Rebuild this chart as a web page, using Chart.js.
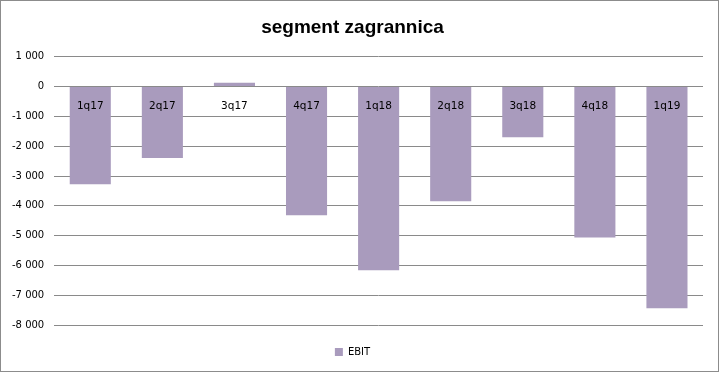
<!DOCTYPE html>
<html>
<head>
<meta charset="utf-8">
<script src="https://cdn.jsdelivr.net/npm/chart.js@4"></script>
<style>
  html, body { margin: 0; padding: 0; background: #fff; }
  #wrap { position: relative; width: 717px; height: 370px; border: 1px solid #8c8c8c; }
</style>
</head>
<body>
<div id="wrap"><canvas id="chart"></canvas></div>
<script>
// Dane
const kwartaly = ["1q17", "2q17", "3q17", "4q17", "1q18", "2q18", "3q18", "4q18", "1q19"];
const ebit = [-3280, -2400, 130, -4320, -6160, -3850, -1700, -5060, -7440];
const tytul = "segment zagrannica";
const seria = "EBIT";

// format "1 000"
function formatTys(v) {
  const s = Math.abs(v).toString().replace(/\B(?=(\d{3})+(?!\d))/g, " ");
  return (v < 0 ? "-" : "") + s;
}

const ctx = document.getElementById("chart").getContext("2d");
new Chart(ctx, {
  type: "bar",
  data: {
    labels: kwartaly,
    datasets: [
      {
        label: seria,
        data: ebit,
        backgroundColor: "#a99bbd",
        borderWidth: 0,
        barPercentage: 0.57,
        categoryPercentage: 1,
      },
    ],
  },
  options: {
    responsive: true,
    maintainAspectRatio: false,
    animation: false,
    layout: { padding: { left: 1, right: 15, top: 3, bottom: 4 } },
    plugins: {
      title: {
        display: true,
        text: tytul,
        color: "#000",
        font: { family: "Liberation Sans", size: 19, weight: "bold" },
        padding: { top: 12, bottom: 18 },
      },
      legend: {
        position: "bottom",
        labels: {
          boxWidth: 8,
          boxHeight: 8,
          color: "#000",
          font: { family: "DejaVu Sans", size: 10 },
          padding: 22,
        },
      },
      tooltip: { enabled: false },
    },
    scales: {
      x: {
        position: { y: 0 },
        grid: { display: false, drawTicks: false },
        border: { display: false },
        ticks: {
          z: 1, // etykiety nad słupkami
          color: "#000",
          font: { family: "DejaVu Sans", size: 10.5 },
          padding: 13,
        },
      },
      y: {
        min: -8000,
        max: 1000,
        grid: { color: "#8a8a8a", drawTicks: false },
        border: { display: false },
        ticks: {
          stepSize: 1000,
          color: "#000",
          font: { family: "DejaVu Sans", size: 10 },
          padding: 10,
          callback: (v) => formatTys(v),
        },
      },
    },
  },
});
</script>
</body>
</html>
